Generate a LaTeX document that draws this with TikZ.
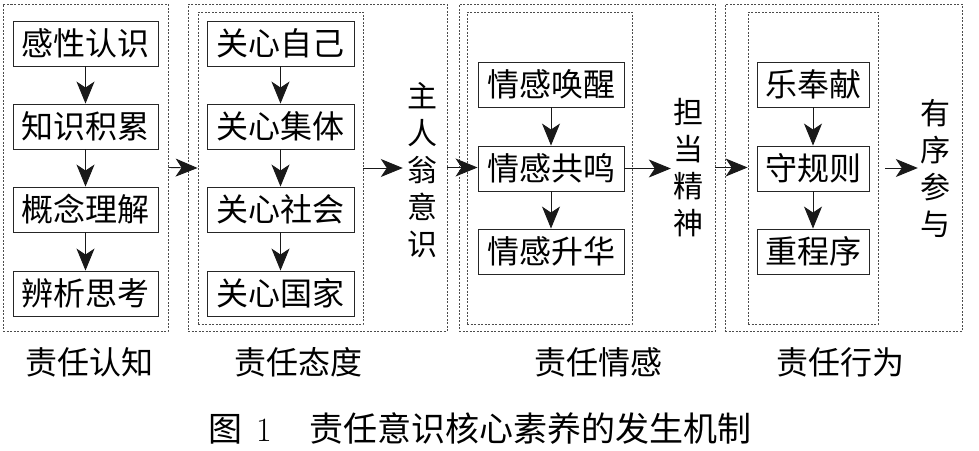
\documentclass[tikz,border=0pt]{standalone}
\usepackage{fontspec}
\newfontfamily\cjk{Noto Sans CJK SC}
\usetikzlibrary{arrows.meta}
\begin{document}
\begin{tikzpicture}[x=1pt,y=-1pt,
  dbox/.style={draw=black!70, dash pattern=on 2pt off 1.5pt, line width=0.8pt, inner sep=0pt},
  sbox/.style={draw=black!85, line width=0.9pt, minimum height=45pt, inner sep=0pt, font=\cjk\fontsize{32}{32}\selectfont},
  vtext/.style={inner sep=0pt, align=center, font=\cjk\fontsize{30}{37}\selectfont},
  lbl/.style={inner sep=0pt, font=\cjk\fontsize{32}{32}\selectfont},
  arr/.style={draw=black!90, line width=0.9pt, -{Stealth[length=22pt,width=18pt,inset=6pt]}}]
\useasboundingbox (0,0) rectangle (979,450);
% dashed frames
\node[dbox, minimum width=165pt, minimum height=327pt] (o1) at (85.5,167.5) {};
\node[dbox, minimum width=259pt, minimum height=327pt] (o2) at (317.5,167.5) {};
\node[dbox, minimum width=165pt, minimum height=312pt] (i2) at (280.5,168) {};
\node[dbox, minimum width=256pt, minimum height=327pt] (o3) at (587,167.5) {};
\node[dbox, minimum width=165pt, minimum height=312pt] (i3) at (549.5,168) {};
\node[dbox, minimum width=237pt, minimum height=327pt] (o4) at (843.5,167.5) {};
\node[dbox, minimum width=130pt, minimum height=312pt] (i4) at (813,168) {};
% column 1
\node[sbox, minimum width=145pt] (a1) at (85.5,43.5) {感性认识};
\node[sbox, minimum width=145pt] (a2) at (85.5,126.5) {知识积累};
\node[sbox, minimum width=145pt] (a3) at (85.5,209.5) {概念理解};
\node[sbox, minimum width=145pt] (a4) at (85.5,293.5) {辨析思考};
% column 2
\node[sbox, minimum width=147pt] (b1) at (280.5,43.5) {关心自己};
\node[sbox, minimum width=147pt] (b2) at (280.5,126.5) {关心集体};
\node[sbox, minimum width=147pt] (b3) at (280.5,209.5) {关心社会};
\node[sbox, minimum width=147pt] (b4) at (280.5,293.5) {关心国家};
% column 3
\node[sbox, minimum width=146pt] (c1) at (551,84.5) {情感唤醒};
\node[sbox, minimum width=146pt] (c2) at (551,168.5) {情感共鸣};
\node[sbox, minimum width=146pt] (c3) at (551,251.5) {情感升华};
% column 4
\node[sbox, minimum width=112pt] (d1) at (813,84.5) {乐奉献};
\node[sbox, minimum width=112pt] (d2) at (813,168.5) {守规则};
\node[sbox, minimum width=112pt] (d3) at (813,251.5) {重程序};
% vertical texts
\node[vtext] (t1) at (422,170) {主\\人\\翁\\意\\识};
\node[vtext] (t2) at (688,167.5) {担\\当\\精\\神};
\node[vtext] (t3) at (935,168) {有\\序\\参\\与};
% labels
\node[lbl] (l1) at (89,362) {责任认知};
\node[lbl] (l2) at (298,362) {责任态度};
\node[lbl] (l3) at (598,362) {责任情感};
\node[lbl] (l4) at (840,362) {责任行为};
\node[inner sep=0pt] (title) at (480,429) {{\cjk\fontsize{34}{34}\selectfont 图}\fontsize{34}{34}\selectfont\hspace{14pt}1\hspace{38pt}{\cjk\fontsize{34}{34}\selectfont 责任意识核心素养的发生机制}};
% vertical arrows
\draw[arr] (a1) -- (a2);
\draw[arr] (a2) -- (a3);
\draw[arr] (a3) -- (a4);
\draw[arr] (b1) -- (b2);
\draw[arr] (b2) -- (b3);
\draw[arr] (b3) -- (b4);
\draw[arr] (c1) -- (c2);
\draw[arr] (c2) -- (c3);
\draw[arr] (d1) -- (d2);
\draw[arr] (d2) -- (d3);
% horizontal arrows
\draw[arr] (o1.east) -- (i2.west);
\draw[arr, shorten >=4pt] (i2.east) -- (i2.east -| t1.west);
\draw[arr] (o2.east) -- (o2.east -| c2.west);
\draw[arr, shorten >=2pt] (c2.east) -- (c2.east -| t2.west);
\draw[arr] (o3.east) -- (o3.east -| i4.west);
\draw[arr, shorten <=7pt, shorten >=2pt] (i4.east) -- (i4.east -| t3.west);
\end{tikzpicture}
\end{document}
